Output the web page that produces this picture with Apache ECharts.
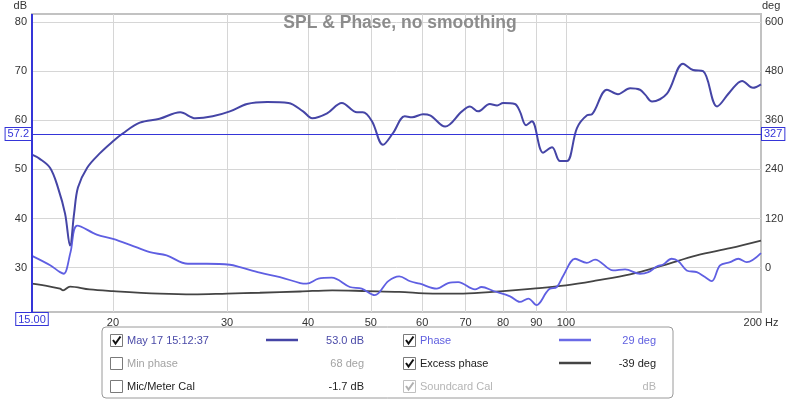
<!DOCTYPE html>
<html>
<head>
<meta charset="utf-8">
<script src="https://cdn.jsdelivr.net/npm/echarts@6/dist/echarts.min.js"></script>
<style>
  html, body { margin: 0; padding: 0; background: #fff; }
  #chart { width: 800px; height: 400px; }
</style>
</head>
<body>
<div id="chart"></div>
<script>
// SPL (dB)
const splFreq = [15.0, 15.4, 16.0, 16.45, 16.87, 17.17, 17.42, 17.66, 18.24, 19.1, 20.0, 20.7, 22.0, 23.6, 25.4, 26.8, 28.5, 30.3, 32.2, 34.6, 37.3, 39.3, 40.6, 42.8, 45.1, 47.6, 48.6, 50.2, 52.2, 54.1, 56.4, 57.9, 60.2, 61.7, 65.1, 69.1, 71.1, 73.2, 76.3, 78.3, 80.0, 83.4, 84.9, 86.8, 88.6, 92.2, 95.2, 97.9, 100.4, 104, 107.8, 109.7, 115.7, 120.3, 125.6, 130.1, 132.5, 135.8, 143.2, 151.6, 157.1, 162.8, 171.1, 179.2, 187.0, 194.4, 200];
const splDb = [53.0, 52.2, 50.3, 46.3, 41.0, 34.5, 41.0, 46.3, 50.3, 53.3, 55.7, 57.3, 59.5, 60.3, 61.6, 60.4, 60.8, 61.8, 63.3, 63.7, 63.5, 61.8, 60.4, 61.4, 63.5, 61.6, 61.6, 59.8, 55.0, 57.4, 60.8, 60.6, 61.2, 61.0, 58.7, 61.8, 62.8, 61.8, 63.3, 63.0, 63.5, 63.3, 61.8, 59.0, 59.8, 53.4, 54.5, 51.7, 51.7, 58.4, 61.0, 61.2, 66.2, 65.3, 66.5, 66.2, 65.2, 63.8, 65.4, 71.5, 70.2, 70.0, 62.8, 65.8, 68.0, 66.6, 67.3];

// phase (deg)
const phaseFreq = [15.0, 16.0, 16.57, 16.8, 17.2, 17.62, 18.88, 20.0, 21.25, 22.8, 24.2, 26.1, 27.9, 30.3, 31.4, 33.7, 36.2, 38.9, 39.8, 41.5, 43.5, 46.4, 48.4, 50.7, 53.2, 55.3, 57.5, 59.5, 63.2, 65.8, 68.2, 72.4, 74.1, 77.3, 82.0, 84.9, 87.5, 90.1, 93.4, 94.5, 96.8, 99.1, 103.3, 107.7, 110.9, 118.3, 123.4, 130.1, 134.0, 138.1, 141.3, 145.6, 149.1, 153.6, 159.2, 163.9, 167.9, 172.9, 179.2, 184.5, 190.1, 200];
const phaseDeg = [29, 6, -10.7, -14.6, 38, 103, 81, 70.5, 56, 38, 30, 9.7, 9.7, 7.3, 1.5, -12, -22.8, -37.4, -39, -26.8, -24.3, -47, -51, -67, -32.6, -21, -33, -39, -51, -37.4, -35, -52.7, -47, -56.8, -69.7, -83.5, -75.3, -91, -59, -51, -47, -18.7, 21.9, 12, 20, -6.6, -4, -14.6, -10.7, 3, 8, 21.9, 16, -6.6, -10.7, -22.8, -32.6, 5.6, 13.6, 21.9, 13.6, 35.5];

// excess phase (deg)
const excessFreq = [15.0, 16.0, 16.57, 16.75, 17.17, 18.4, 20.0, 23.6, 26.6, 30.0, 33.7, 38.9, 43.6, 49.3, 55.3, 62.3, 69.4, 79.1, 89, 100, 111.7, 125.6, 141.3, 159.2, 179.2, 200];
const excessDeg = [-39, -46, -51, -55, -46, -53, -57, -63, -65, -63, -61, -58, -55, -57, -59, -63, -63, -57.6, -51, -43, -31, -16.3, 5.6, 30, 47.6, 66];

const freqTicks = [20, 30, 40, 50, 60, 70, 80, 90, 100, 200];
const gridFreqs = [20, 30, 40, 50, 60, 70, 80, 90, 100];
const dbTicks = [30, 40, 50, 60, 70, 80];
const degTicks = [0, 120, 240, 360, 480, 600];

// cursor readout
const cursorFreq = 15;
const cursorDb = 57.2;
const cursorDeg = 327;

// legend table: names, readouts, check state
const legendNames = ['May 17 15:12:37', 'Min phase', 'Mic/Meter Cal', 'Phase', 'Excess phase', 'Soundcard Cal'];
const legendValues = ['53.0 dB', '68 deg', '-1.7 dB', '29 deg', '-39 deg', 'dB'];
const legendChecked = [1, 0, 0, 1, 1, 2];   // 2 = greyed tick

const FONT = '"Liberation Sans", Arial, sans-serif';
const SPL_COLOR = '#4545a6';
const PHASE_COLOR = '#5f5fe2';
const EXCESS_COLOR = '#444444';
const CURSOR_COLOR = '#3535d8';

const legendText = ['#4a4aa8', '#a3a3a3', '#222', '#6060e0', '#222', '#b5b5b5'];
const legendLine = [SPL_COLOR, null, null, '#6a6ae6', EXCESS_COLOR, null];

const pairs = (xs, ys) => xs.map((x, i) => [x, ys[i]]);

// legend box drawn with graphic elements
function buildLegend() {
    const els = [{
        type: 'rect',
        shape: { x: 102, y: 327, width: 571, height: 71, r: 4 },
        style: { fill: '#fff', stroke: '#9a9a9a', lineWidth: 1 }
    }];
    const boxX = [110, 403];
    const lineX = [266, 559];
    const valX = [364, 656];
    const rowY = [340, 363, 386];
    legendNames.forEach((name, i) => {
        const col = Math.floor(i / 3);
        const y = rowY[i % 3];
        const bx = boxX[col];
        els.push({
            type: 'rect',
            shape: { x: bx + 0.5, y: y - 5.5, width: 12, height: 12 },
            style: { fill: '#fff', stroke: legendChecked[i] === 2 ? '#c0c0c0' : '#7a7a7a', lineWidth: 1 }
        });
        if (legendChecked[i]) {
            els.push({
                type: 'polyline',
                shape: { points: [[bx + 3, y], [bx + 5.5, y + 3.5], [bx + 10.5, y - 3.5]] },
                style: { stroke: legendChecked[i] === 2 ? '#b0b0b0' : '#111', lineWidth: 2, fill: null }
            });
        }
        els.push({
            type: 'text', x: bx + 17, y: y + 0.5,
            style: { text: name, fill: legendText[i], font: '11px ' + FONT, verticalAlign: 'middle' }
        });
        if (legendLine[i]) {
            els.push({
                type: 'line',
                shape: { x1: lineX[col], y1: y, x2: lineX[col] + 32, y2: y },
                style: { stroke: legendLine[i], lineWidth: 2.5 }
            });
        }
        els.push({
            type: 'text', x: valX[col], y: y + 0.5,
            style: { text: legendValues[i], fill: legendText[i], font: '11px ' + FONT, align: 'right', verticalAlign: 'middle' }
        });
    });
    return els;
}

const cursorLabel = {
    color: CURSOR_COLOR,
    fontSize: 11,
    fontFamily: FONT,
    backgroundColor: '#fff',
    borderColor: CURSOR_COLOR,
    borderWidth: 1,
    padding: [1, 2, 0, 2],
    distance: 1
};

const myChart = echarts.init(document.getElementById('chart'));

const option = {
    animation: false,
    backgroundColor: '#fff',
    title: {
        text: 'SPL & Phase, no smoothing',
        left: 'center',
        top: 9,
        textStyle: { color: '#8c8c8c', fontSize: 17.5, fontWeight: 'bold', fontFamily: FONT }
    },
    grid: {
        left: 32, right: 39, top: 12, bottom: 88,
        show: true,
        borderColor: '#c2c2c2',
        borderWidth: 2
    },
    xAxis: {
        type: 'log',
        logBase: 10,
        min: 15,
        max: 200,
        axisLine: { show: false },
        axisTick: { show: false, customValues: gridFreqs },
        splitLine: { show: true, lineStyle: { color: '#d6d6d6', width: 1 } },
        axisLabel: {
            customValues: freqTicks,
            margin: 5,
            color: '#333',
            fontSize: 11,
            fontFamily: FONT,
            formatter: v => (v === 200 ? '200 Hz' : String(v))
        }
    },
    yAxis: [
        {
            type: 'value',
            min: 21,
            max: 81.6,
            position: 'left',
            name: 'dB',
            nameLocation: 'end',
            nameGap: 3,
            nameTextStyle: { color: '#333', fontSize: 11, fontFamily: FONT, align: 'right', padding: [0, 5, 0, 0] },
            axisLine: { show: false },
            axisTick: { show: false, customValues: dbTicks },
            splitLine: { show: true, lineStyle: { color: '#d6d6d6', width: 1 } },
            axisLabel: { customValues: dbTicks, margin: 5, color: '#333', fontSize: 11, fontFamily: FONT }
        },
        {
            type: 'value',
            min: -108,
            max: 619.2,
            position: 'right',
            name: 'deg',
            nameLocation: 'end',
            nameGap: 3,
            nameTextStyle: { color: '#333', fontSize: 11, fontFamily: FONT, align: 'left', padding: [0, 0, 0, 1] },
            axisLine: { show: false },
            axisTick: { show: false, customValues: degTicks },
            splitLine: { show: false },
            axisLabel: { customValues: degTicks, margin: 4, color: '#333', fontSize: 11, fontFamily: FONT }
        }
    ],
    series: [
        {
            name: 'SPL',
            type: 'line',
            yAxisIndex: 0,
            data: pairs(splFreq, splDb),
            smooth: 0.35,
            symbol: 'none',
            z: 4,
            lineStyle: { color: SPL_COLOR, width: 2 },
            markLine: {
                silent: true,
                symbol: 'none',
                lineStyle: { color: CURSOR_COLOR, width: 1, type: 'solid' },
                data: [
                    { yAxis: cursorDb, label: Object.assign({ position: 'start', formatter: String(cursorDb) }, cursorLabel) },
                    { yAxis: cursorDb, label: Object.assign({ position: 'end', formatter: String(cursorDeg) }, cursorLabel) },
                    { xAxis: cursorFreq, lineStyle: { width: 2 }, label: Object.assign({ position: 'start', formatter: cursorFreq.toFixed(2) }, cursorLabel) }
                ]
            }
        },
        {
            name: 'Excess phase',
            type: 'line',
            yAxisIndex: 1,
            data: pairs(excessFreq, excessDeg),
            smooth: 0.35,
            symbol: 'none',
            z: 2,
            lineStyle: { color: EXCESS_COLOR, width: 1.8 }
        },
        {
            name: 'Phase',
            type: 'line',
            yAxisIndex: 1,
            data: pairs(phaseFreq, phaseDeg),
            smooth: 0.35,
            symbol: 'none',
            z: 3,
            lineStyle: { color: PHASE_COLOR, width: 1.8 }
        }
    ],
    graphic: buildLegend()
};

myChart.setOption(option);
</script>
</body>
</html>
